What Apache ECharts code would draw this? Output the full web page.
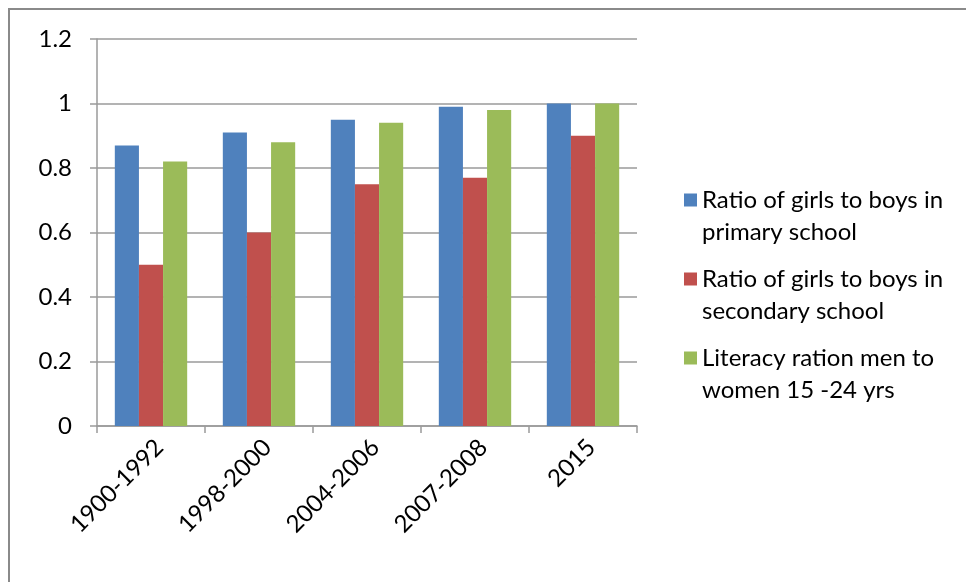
<!DOCTYPE html>
<html>
<head>
<meta charset="utf-8">
<script src="https://cdn.jsdelivr.net/npm/echarts@6/dist/echarts.min.js"></script>
<style>
  html, body { margin: 0; padding: 0; background: #fff; }
  #chart { width: 966px; height: 582px; }
</style>
</head>
<body>
<div id="chart"></div>
<script>
const categories = ["1900-1992", "1998-2000", "2004-2006", "2007-2008", "2015"];
const primary = [0.87, 0.91, 0.95, 0.99, 1.0];
const secondary = [0.5, 0.6, 0.75, 0.77, 0.9];
const literacy = [0.82, 0.88, 0.94, 0.98, 1.0];
const seriesNames = [
  "Ratio of girls to boys in\nprimary school",
  "Ratio of girls to boys in\nsecondary school",
  "Literacy ration men to\nwomen 15 -24 yrs"
];
const colors = ["#4F81BD", "#C0504D", "#9BBB59"];

const font = "Lato, 'Open Sans', sans-serif";

// one legend per item; an empty first line puts the icon on the first text line
const legendTops = [152, 231, 310];
const legends = seriesNames.map((name, i) => ({
  data: [name],
  orient: "vertical",
  left: 684,
  top: legendTops[i],
  padding: 0,
  itemWidth: 13,
  itemHeight: 13,
  icon: "rect",
  selectedMode: false,
  formatter: (n) => "\n" + n,
  textStyle: {
    fontFamily: font,
    fontSize: 24,
    lineHeight: 32,
    color: "#000",
  },
}));

const myChart = echarts.init(document.getElementById("chart"));
myChart.setOption({
  animation: false,
  color: colors,
  legend: legends,
  graphic: [
    {
      type: "rect",
      shape: { x: 9, y: 9, width: 1000, height: 700 },
      style: { fill: "none", stroke: "#8a8a8a", lineWidth: 2 },
      silent: true,
    },
  ],
  grid: {
    left: 97,
    right: 329,
    top: 39,
    bottom: 156,
  },
  xAxis: {
    type: "category",
    data: categories,
    axisLine: { lineStyle: { color: "#9a9a9a", width: 1.5 } },
    axisTick: { show: true, length: 7, lineStyle: { color: "#9a9a9a", width: 1.5 } },
    axisLabel: {
      rotate: 45,
      margin: 26,
      padding: [0, -12, 0, 0],
      fontFamily: font,
      fontSize: 24,
      color: "#000",
      interval: 0,
    },
  },
  yAxis: {
    type: "value",
    min: 0,
    max: 1.2,
    interval: 0.2,
    axisLine: { show: true, lineStyle: { color: "#9a9a9a", width: 1.5 } },
    axisTick: { show: true, length: 7, lineStyle: { color: "#9a9a9a", width: 1.5 } },
    splitLine: { lineStyle: { color: "#9a9a9a", width: 1.5 } },
    axisLabel: {
      margin: 25,
      fontFamily: font,
      fontSize: 24,
      color: "#000",
    },
  },
  series: [
    { name: seriesNames[0], type: "bar", data: primary, barGap: "0%", barCategoryGap: "33%" },
    { name: seriesNames[1], type: "bar", data: secondary, barGap: "0%", barCategoryGap: "33%" },
    { name: seriesNames[2], type: "bar", data: literacy, barGap: "0%", barCategoryGap: "33%" },
  ],
});
</script>
</body>
</html>
